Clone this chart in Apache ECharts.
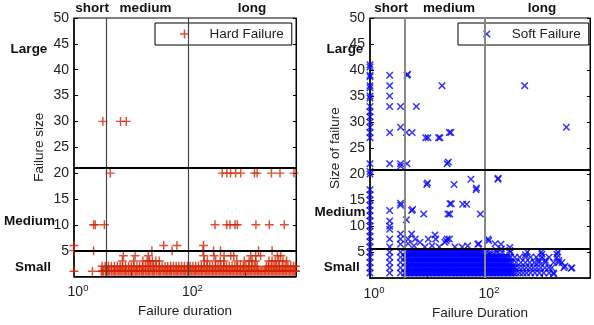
<!DOCTYPE html>
<html>
<head>
<meta charset="utf-8">
<script src="https://cdn.jsdelivr.net/npm/echarts@6/dist/echarts.min.js"></script>
<style>
html,body{margin:0;padding:0;background:#fff;}
#main{width:594px;height:325px;}
</style>
</head>
<body>
<div id="main"></div>
<script>
/*---------------数据 分割线---------------*/
// Hard failure (left): durations per failure size
var hardY1 = [1, 2.1, 3.0, 3.3, 3.8, 4.2, 4.8, 5.3, 6.0, 6.7, 7.6, 8.4, 9.5, 10.5, 11.9, 13.2, 15, 16.6, 18.8, 20.8, 23.5, 26, 29.5, 32.5, 37, 41, 46, 51, 58, 64, 72, 81, 90, 101, 113, 127, 141, 159, 177, 200, 222, 250, 278, 312, 350, 390, 438, 490, 548, 612, 686, 770, 860, 960, 1080, 1200, 1350, 1510, 1690, 1890, 2120, 2370, 2650, 2970, 3320, 3710, 4160, 4650, 5200, 5830, 6520, 7300,
	3.15, 3.55, 4.0, 4.5, 5.05, 5.65, 6.35, 7.15, 8.0, 8.95, 10, 11.2, 12.55, 14.1, 15.8, 17.7, 19.8, 22.1, 24.7, 27.7, 31, 34.7, 39, 43.5, 48.5, 54.5, 61, 68, 76.5, 85.5, 95.5, 107, 120, 134, 150, 168, 188, 211, 236, 264, 295, 331, 370, 414, 464, 519, 580, 649, 728, 815, 910, 1020, 1140, 1275, 1430, 1600, 1790, 2005, 2245, 2510, 2810, 3145, 3515, 3935, 4405, 4925, 5515, 6175, 6910, 7450];
var hardY2 = [3.1, 3.5, 4.0, 4.5, 5.1, 5.7, 6.4, 7.1, 8.0, 9.0, 10, 11.2, 12.6, 14, 15.8, 17.6, 19.8, 22, 24.8, 27.6, 31, 34.6, 39, 43.5, 49, 54.5, 61, 68, 76, 85, 96, 107, 120, 134, 150, 168, 188, 210, 236, 264, 295, 330, 370, 414, 462, 518, 580, 648, 725, 812, 908, 1015, 1140, 1270, 1420, 1590, 2300, 2500, 2800, 3130, 3500, 3920, 4390, 4910, 5500, 6150, 6880, 7500];
var hardY3 = [7.0, 11, 16, 19, 21, 23.5, 27, 31, 190, 215, 300, 360, 420, 700, 950, 1150, 1300, 1500, 2550, 2900, 3300, 3800, 4500, 5200];
var hardY4 = [7.3, 11.7, 19.9, 185, 280, 420, 550, 620, 1230, 1500, 1830, 3600, 4100];
var hardY5 = [1, 2.2, 23, 52, 180, 275, 364, 1680, 2900];
var hardY6 = [1, 37, 63, 184];
var hardY10 = [2.2, 2.35, 3.4, 292, 467, 534, 653, 716, 1515, 2595, 4750];
var hardY20 = [4.3, 390, 470, 546, 669, 820, 1430, 1590, 2830, 3990, 7000];
var hardY30 = [3.2, 6.5, 8.2];

// Soft failure (right): durations per size for the dense band
var softRow1 = [4.0, 4.4, 4.9, 5.5, 6.1, 6.8, 7.6, 8.5, 9.5, 10.6, 11.8, 13.2, 14.7, 16.4, 18.3, 20.4, 22.8, 25.4, 28.3, 31.6, 35.2, 39.3, 43.8, 48.9, 54.5, 60.8, 67.8, 75.6, 84.3, 94, 105, 117, 131, 146, 163, 182, 203, 226, 252, 281, 314, 350, 400, 460, 530, 620, 740, 880, 1050, 1300, 1560,
	4.2, 4.65, 5.2, 5.8, 6.45, 7.2, 8.05, 9.0, 10.05, 11.2, 12.5, 13.95, 15.55, 17.35, 19.35, 21.6, 24.1, 26.85, 29.95, 33.4, 37.25, 41.55, 46.35, 51.7, 57.65, 64.3, 71.7, 79.95, 89.1, 99.5, 111, 124, 138, 154, 172, 192, 214, 239, 266, 297];
var softRow2 = [4.2, 4.7, 5.2, 5.8, 6.5, 7.2, 8.0, 9.0, 10, 11.2, 12.5, 13.9, 15.5, 17.3, 19.3, 21.6, 24.1, 26.9, 30, 33.4, 37.3, 41.6, 46.4, 51.7, 57.7, 64.4, 71.8, 80, 89.3, 99.6, 111, 124, 138, 154, 172, 192, 214, 239, 266, 297, 340, 390, 450, 520, 600, 690, 800, 930, 1100, 1280, 1450, 2350, 3250,
	4.45, 4.95, 5.5, 6.15, 6.85, 7.6, 8.5, 9.5, 10.6, 11.85, 13.2, 14.7, 16.4, 18.3, 20.45, 22.85, 25.5, 28.45, 31.7, 35.35, 39.45, 44, 49.05, 54.7, 61, 68.1, 75.9, 84.6, 94.4, 105, 117, 131, 146, 163, 182, 203, 226, 252, 281, 318];
var softRow3 = [4.1, 4.6, 5.1, 5.6, 6.3, 7.0, 7.8, 8.7, 9.7, 10.8, 12.1, 13.5, 15, 16.8, 18.7, 20.9, 23.3, 26, 29, 32.3, 36, 40.2, 44.9, 50, 55.8, 62.3, 69.5, 77.5, 86.5, 96.5, 108, 120, 134, 150, 167, 186, 208, 232, 260, 300, 350, 420, 505, 600, 720, 860, 1120, 1560, 1910, 2180,
	4.35, 4.85, 5.35, 5.95, 6.65, 7.4, 8.25, 9.2, 10.25, 11.45, 12.8, 14.25, 15.9, 17.75, 19.8, 22.1, 24.65, 27.5, 30.65, 34.15, 38.1, 42.55, 47.45, 52.9, 59, 65.9, 73.5, 82, 91.5, 102, 114, 127, 142, 158, 176, 197, 220, 246, 280];
var softRow4 = [4.0, 4.5, 5.0, 5.6, 6.2, 6.9, 7.7, 8.6, 9.6, 10.7, 12, 13.4, 14.9, 16.6, 18.5, 20.7, 23.1, 25.7, 28.7, 32, 35.7, 39.8, 44.4, 49.5, 55.2, 61.6, 68.7, 76.6, 85.5, 95.4, 106, 118, 132, 148, 165, 185, 210, 240, 280, 330, 400, 505, 620, 780, 980, 1300, 1780,
	4.25, 4.75, 5.3, 5.9, 6.55, 7.3, 8.15, 9.1, 10.15, 11.35, 12.7, 14.15, 15.75, 17.55, 19.6, 21.9, 24.4, 27.2, 30.35, 33.85, 37.75, 42.1, 46.95, 52.35, 58.4, 65.15, 72.65, 81, 90.4, 100.7, 112, 125, 140, 156, 175, 197, 225, 260];
var softRow5 = [4.1, 4.6, 5.2, 5.8, 6.4, 7.2, 8.0, 8.9, 9.9, 11, 12.3, 13.7, 15.3, 17.1, 19, 21.2, 23.7, 26.4, 29.5, 32.9, 36.7, 40.9, 45.6, 50.9, 56.8, 63.3, 70.6, 78.8, 88, 105, 124, 158, 198, 277, 545, 950, 1850,
	4.35, 4.9, 5.5, 6.1, 6.8, 7.6, 8.45, 9.4, 10.45, 11.65, 13, 14.5, 16.2, 18.05, 20.1, 22.45, 25.05, 27.95, 31.2, 34.8, 38.8, 43.25, 48.25, 53.85, 60, 67, 74.7, 83.4, 95];
// Soft failure columns at short durations: sizes
var softX1 = [41, 40.6, 39, 38.7, 37, 36.6, 35, 34.6, 33, 32, 31, 30, 29, 28, 27, 22, 20.5, 20, 17, 16, 15, 14, 13, 12, 11, 10, 9, 8, 7, 6, 5, 4, 3, 2, 1];
var softX2 = [39, 37, 35, 33, 28, 22, 13, 11, 10, 9.4, 7.5, 6, 5, 4, 3, 2, 1];
var softX3 = [33, 29, 22, 21.5, 14, 8.5, 7.5, 6.5, 5, 4, 3, 2, 1];
// Soft failure scattered points [duration, size]
var softOther = [
	[4.4, 39], [4.5, 39.2], [6.4, 33], [17.9, 37], [490, 37],
	[4.3, 28], [5.4, 28], [9.3, 27], [10.2, 27], [15.6, 27], [16.5, 27], [24, 28], [25.5, 28], [2600, 29],
	[4.4, 22], [23, 22.3], [22, 22],
	[9.7, 18], [10, 18.3], [29, 18], [57, 19], [70, 17], [71, 17.3], [168, 19], [170, 19.2],
	[3.4, 14.4], [24.6, 14.3], [26, 14.3], [41, 14.2], [48, 14.2],
	[5.3, 13], [5.5, 13.2], [8.6, 12.3], [22.7, 12.3], [24.4, 12.3], [83, 12.3],
	[4.3, 11.2],
	[5.3, 8.5], [4.6, 7.5], [6.1, 7.5], [7.4, 6.9], [10.3, 7.5], [13.5, 8.3], [13.9, 7.5], [20, 6.9], [21, 7.2],
	[22, 7.5], [24, 7.5], [113, 7.5], [116, 7.2], [150, 6.6], [75, 6.5], [78, 6.6], [190, 6.5], [270, 5.9],
	[4.6, 6.6], [5.8, 6.2], [9, 6], [12, 6.2], [16, 6], [30, 6], [40, 6], [50, 6.2],
	[158, 5.3], [192, 5.6], [270, 5.3], [124, 4.6], [505, 4.5], [980, 4.6], [1780, 4.6],
	[860, 3.4], [1120, 3.4], [1910, 3.4], [2450, 2.3], [3150, 1.9], [1560, 0.8]
];

/*---------------样式 分割线---------------*/
var FONT = 'Liberation Sans, Arial, Helvetica, sans-serif';
var RED = '#d42200';
var BLUE = '#0000ff';
var PLUS = 'path://M4.2,0H5.8V4.2H10V5.8H5.8V10H4.2V5.8H0V4.2H4.2Z';
var CROSS = 'path://M0,1.4L1.4,0L5,3.6L8.6,0L10,1.4L6.4,5L10,8.6L8.6,10L5,6.4L1.4,10L0,8.6L3.6,5Z';

function rows(list, y) {
	return list.map(function (d) { return [d, y]; });
}
function cols(x, list) {
	return list.map(function (y) { return [x, y]; });
}

var hardData = [].concat(
	rows(hardY1, 1), rows(hardY2, 2), rows(hardY3, 3), rows(hardY4, 4), rows(hardY5, 5),
	rows(hardY6, 6), rows(hardY10, 10), rows(hardY20, 20), rows(hardY30, 30)
);
var softData = [].concat(
	cols(1, softX1), cols(2.2, softX2), cols(3.4, softX3),
	rows(softRow1, 1), rows(softRow2, 2), rows(softRow3, 3), rows(softRow4, 4), rows(softRow5, 5),
	softOther
);

function logLabel(v) {
	var p = Math.round(Math.log(v) / Math.LN10);
	if (p === 0 || p === 2) return '{b|10}{s|' + p + '}';
	return '';
}

function xAxisOf(grid, max, name) {
	return {
		gridIndex: grid, type: 'log', logBase: 10, min: 1, max: max,
		name: name, nameLocation: 'middle', nameGap: 25,
		nameTextStyle: {fontSize: 13.5, fontFamily: FONT, color: '#222'},
		axisLine: {lineStyle: {color: '#000', width: 1.5}},
		axisTick: {inside: true, length: 4, lineStyle: {color: '#000'}},
		splitLine: {show: false},
		axisLabel: {
			margin: 7, padding: [0, 0, 0, 8], formatter: logLabel,
			rich: {
				b: {fontSize: 14, fontFamily: FONT, color: '#222', lineHeight: 18},
				s: {fontSize: 9.5, fontFamily: FONT, color: '#222', lineHeight: 10, verticalAlign: 'top'}
			}
		}
	};
}
function yAxisOf(grid, name) {
	return {
		gridIndex: grid, type: 'value', min: 0, max: 50, interval: 5,
		name: name, nameLocation: 'middle', nameGap: 28,
		nameTextStyle: {fontSize: 13.5, fontFamily: FONT, color: '#222'},
		axisLine: {show: true, lineStyle: {color: '#000', width: 1.5}},
		axisTick: {inside: true, length: 4, lineStyle: {color: '#000'}},
		splitLine: {show: false},
		axisLabel: {
			margin: 5, fontSize: 14, fontFamily: FONT, color: '#222',
			formatter: function (v) { return v === 0 ? '' : v; }
		}
	};
}
function yBoxAxis(grid) {
	return {
		gridIndex: grid, type: 'value', position: 'right', min: 0, max: 50, interval: 5,
		axisLine: {show: true, lineStyle: {color: '#000', width: 1}},
		axisTick: {inside: true, length: 3, lineStyle: {color: '#000'}},
		axisLabel: {show: false}, splitLine: {show: false}
	};
}
function legendOf(name, left, size) {
	return {
		data: [name], left: left, top: 23, selectedMode: false,
		padding: [4, 8, 4, 25], itemWidth: 40, itemHeight: size, itemGap: 0,
		backgroundColor: '#fff', borderColor: '#000', borderWidth: 1, borderRadius: 0,
		textStyle: {fontSize: 13.5, fontFamily: FONT, color: '#222'}
	};
}
function lines(vx, vColor, vWidth, hy) {
	var d = [];
	vx.forEach(function (x) {
		d.push({xAxis: x, lineStyle: {color: vColor, width: vWidth, type: 'solid'}});
	});
	hy.forEach(function (y) {
		d.push({yAxis: y, lineStyle: {color: '#000', width: 2, type: 'solid'}});
	});
	return {silent: true, symbol: ['none', 'none'], label: {show: false}, animation: false, data: d};
}
function boldText(t, x, y) {
	return {
		type: 'text', x: x, y: y, silent: true,
		style: {text: t, fontSize: 13.5, fontWeight: 'bold', fontFamily: FONT, fill: '#111',
			align: 'center', verticalAlign: 'middle', textAlign: 'center', textVerticalAlign: 'middle'}
	};
}

/*---------------echarts设置 分割线---------------*/
echarts.init(document.getElementById('main')).setOption({
	animation: false,
	backgroundColor: '#fff',
	grid: [
		{left: 74, top: 18, width: 222, height: 258.5, show: true, borderColor: '#000', borderWidth: 1},
		{left: 370, top: 18, width: 220, height: 263, show: true, borderColor: '#000', borderWidth: 1}
	],
	legend: [legendOf('Hard Failure', 155, 9), legendOf('Soft Failure', 458, 7.5)],
	xAxis: [xAxisOf(0, 7600, 'Failure duration'), xAxisOf(1, 6700, 'Failure Duration')],
	yAxis: [yAxisOf(0, 'Failure size'), yAxisOf(1, 'Size of failure'), yBoxAxis(0), yBoxAxis(1)],
	series: [{
		name: 'Hard Failure', type: 'scatter', xAxisIndex: 0, yAxisIndex: 0,
		symbol: PLUS, symbolSize: 9, itemStyle: {color: RED},
		data: hardData,
		markLine: lines([3.6, 100], '#444', 1.2, [21, 5])
	}, {
		name: 'Soft Failure', type: 'scatter', xAxisIndex: 1, yAxisIndex: 1,
		symbol: CROSS, symbolSize: 7.5, itemStyle: {color: BLUE},
		data: softData,
		markLine: lines([4, 100], '#888', 2, [20.8, 5.6])
	}],
	graphic: [
		boldText('Large', 29, 49.5), boldText('Medium', 29.5, 221), boldText('Small', 33, 267),
		boldText('short', 92, 8.5), boldText('medium', 145.5, 8.5), boldText('long', 252, 8.5),
		boldText('Large', 345, 49.5), boldText('Medium', 340, 212), boldText('Small', 341.7, 267),
		boldText('short', 391, 8.5), boldText('medium', 449, 8.5), boldText('long', 542, 8.5)
	]
});
</script>
</body>
</html>
